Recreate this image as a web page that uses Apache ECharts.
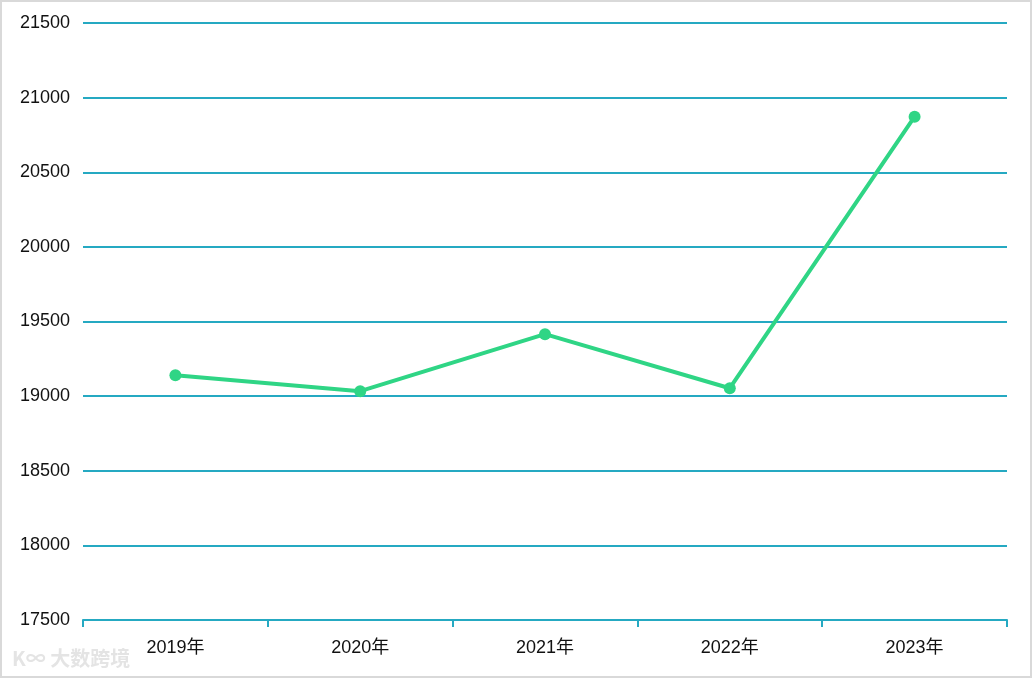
<!DOCTYPE html>
<html>
<head>
<meta charset="utf-8">
<script src="https://cdn.jsdelivr.net/npm/echarts@6/dist/echarts.min.js"></script>
<style>
html,body{margin:0;padding:0;background:#fff;}
#c{width:1032px;height:678px;box-sizing:border-box;border:2px solid #d9d9d9;}
</style>
</head>
<body>
<div id="c"></div>
<script>
var categories = ['2019年', '2020年', '2021年', '2022年', '2023年'];
var values = [19140, 19033, 19415, 19053, 20872];
var yMin = 17500, yMax = 21500, yStep = 500;

var chart = echarts.init(document.getElementById('c'), null, {renderer: 'canvas'});
var font = "'Liberation Sans', 'Noto Sans CJK SC', sans-serif";
chart.setOption({
  animation: false,
  grid: {left: 81, right: 23, top: 21, bottom: 56},
  xAxis: {
    type: 'category',
    data: categories,
    boundaryGap: true,
    axisLine: {lineStyle: {color: '#25a9c2', width: 2}},
    axisTick: {show: true, length: 7, lineStyle: {color: '#25a9c2', width: 2}},
    axisLabel: {color: '#111', fontSize: 18, fontFamily: font, margin: 19}
  },
  yAxis: {
    type: 'value',
    min: yMin, max: yMax, interval: yStep,
    axisLine: {show: false},
    axisTick: {show: false},
    axisLabel: {color: '#111', fontSize: 18, fontFamily: font, margin: 13,
      formatter: function (v) { return String(v); }},
    splitLine: {lineStyle: {color: '#25a9c2', width: 2}}
  },
  series: [{
    type: 'line',
    data: values,
    symbol: 'circle',
    symbolSize: 12,
    lineStyle: {color: '#2fd585', width: 4},
    itemStyle: {color: '#2fd585'}
  }],
  graphic: [{
    type: 'text',
    left: 10, top: 646,
    style: {text: 'K∞ 大数跨境', fill: '#e4e4e4', font: "bold 20px 'Noto Sans CJK SC', sans-serif"}
  }]
});
</script>
</body>
</html>
